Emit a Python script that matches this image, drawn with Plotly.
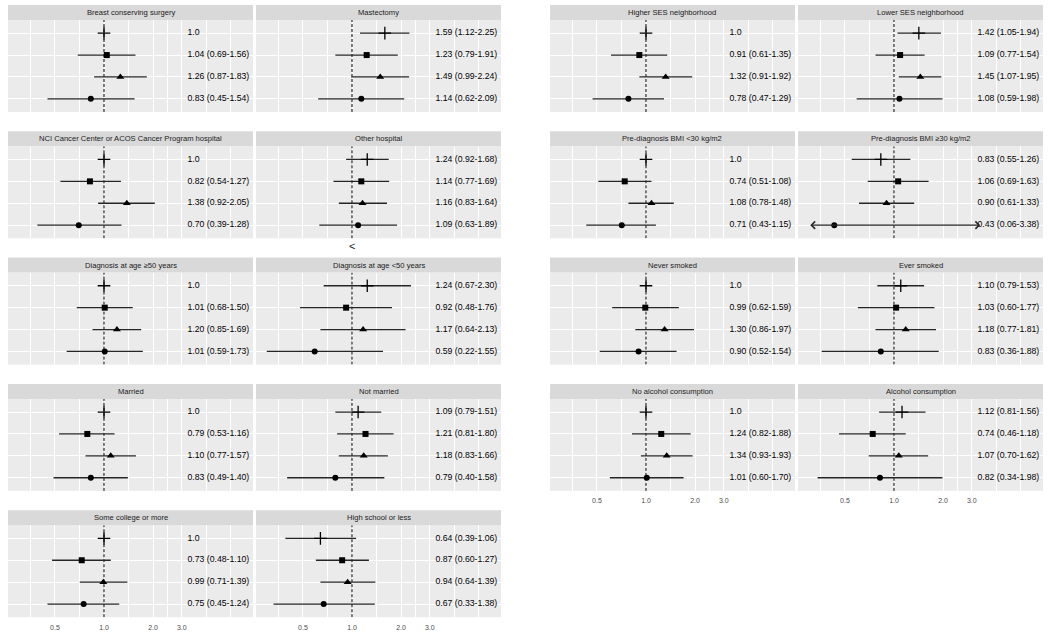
import math
import plotly.graph_objects as go

W, H = 1050, 634
FONT = "Liberation Sans, Arial, sans-serif"

# ---- data ----
left_titles = [
    "Breast conserving surgery", "Mastectomy",
    "NCI Cancer Center or ACOS Cancer Program hospital", "Other hospital",
    "Diagnosis at age \u226550 years", "Diagnosis at age &lt;50 years",
    "Married", "Not married",
    "Some college or more", "High school or less",
]
left_hr = [
    [1.0, 1.04, 1.26, 0.83], [1.59, 1.23, 1.49, 1.14],
    [1.0, 0.82, 1.38, 0.70], [1.24, 1.14, 1.16, 1.09],
    [1.0, 1.01, 1.20, 1.01], [1.24, 0.92, 1.17, 0.59],
    [1.0, 0.79, 1.10, 0.83], [1.09, 1.21, 1.18, 0.79],
    [1.0, 0.73, 0.99, 0.75], [0.64, 0.87, 0.94, 0.67],
]
left_lo = [
    [None, 0.69, 0.87, 0.45], [1.12, 0.79, 0.99, 0.62],
    [None, 0.54, 0.92, 0.39], [0.92, 0.77, 0.83, 0.63],
    [None, 0.68, 0.85, 0.59], [0.67, 0.48, 0.64, 0.22],
    [None, 0.53, 0.77, 0.49], [0.79, 0.81, 0.83, 0.40],
    [None, 0.48, 0.71, 0.45], [0.39, 0.60, 0.64, 0.33],
]
left_hi = [
    [None, 1.56, 1.83, 1.54], [2.25, 1.91, 2.24, 2.09],
    [None, 1.27, 2.05, 1.28], [1.68, 1.69, 1.64, 1.89],
    [None, 1.50, 1.69, 1.73], [2.30, 1.76, 2.13, 1.55],
    [None, 1.16, 1.57, 1.40], [1.51, 1.80, 1.66, 1.58],
    [None, 1.10, 1.39, 1.24], [1.06, 1.27, 1.39, 1.38],
]

right_titles = [
    "Higher SES neighborhood", "Lower SES neighborhood",
    "Pre-diagnosis BMI &lt;30 kg/m2", "Pre-diagnosis BMI \u226530 kg/m2",
    "Never smoked", "Ever smoked",
    "No alcohol consumption", "Alcohol consumption",
]
right_hr = [
    [1.0, 0.91, 1.32, 0.78], [1.42, 1.09, 1.45, 1.08],
    [1.0, 0.74, 1.08, 0.71], [0.83, 1.06, 0.90, 0.43],
    [1.0, 0.99, 1.30, 0.90], [1.10, 1.03, 1.18, 0.83],
    [1.0, 1.24, 1.34, 1.01], [1.12, 0.74, 1.07, 0.82],
]
right_lo = [
    [None, 0.61, 0.91, 0.47], [1.05, 0.77, 1.07, 0.59],
    [None, 0.51, 0.78, 0.43], [0.55, 0.69, 0.61, 0.06],
    [None, 0.62, 0.86, 0.52], [0.79, 0.60, 0.77, 0.36],
    [None, 0.82, 0.93, 0.60], [0.81, 0.46, 0.70, 0.34],
]
right_hi = [
    [None, 1.35, 1.92, 1.29], [1.94, 1.54, 1.95, 1.98],
    [None, 1.08, 1.48, 1.15], [1.26, 1.63, 1.33, 3.38],
    [None, 1.59, 1.97, 1.54], [1.53, 1.77, 1.81, 1.88],
    [None, 1.88, 1.93, 1.70], [1.56, 1.18, 1.62, 1.98],
]

tick_vals = [0.5, 1.0, 2.0, 3.0]
tick_text = ["0.5", "1.0", "2.0", "3.0"]
minor_vals = [0.3536, 0.7071, 1.4142, 2.4495, 4.2426, 6.0]

# ---- layout constants ----
LEFT_COL = [(8, 253), (256, 501)]
RIGHT_COL = [(550, 795), (798, 1043)]
ROW_TOP0, ROW_PITCH, STRIP_H, PANEL_H = 5, 126.3, 15, 92
XRANGE = [-0.589, 0.914]          # log10 units
LABEL_X = 3.25
CLIP_LO, ARROW_HI = 0.3, 3.0

symbols = ["cross-thin", "square", "triangle-up", "circle"]
sizes = [9, 6, 7, 6]
ys = [4, 3, 2, 1]
INK = "#262626"

fig = go.Figure()
layout = {}
annotations = []
shapes = []


def fmt(h, lo, hi):
    if lo is None:
        return "1.0"
    return f"{h:.2f} ({lo:.2f}-{hi:.2f})"


n = 0
for titles, hrs, los, his, cols, nrows in [
    (left_titles, left_hr, left_lo, left_hi, LEFT_COL, 5),
    (right_titles, right_hr, right_lo, right_hi, RIGHT_COL, 4),
]:
    for idx in range(len(titles)):
        n += 1
        row, c = divmod(idx, 2)
        x0, x1 = cols[c]
        top = ROW_TOP0 + ROW_PITCH * row
        ptop, pbot = top + STRIP_H, top + STRIP_H + PANEL_H
        xa = "x" if n == 1 else f"x{n}"
        ya = "y" if n == 1 else f"y{n}"
        bottom = row == nrows - 1

        layout["xaxis" if n == 1 else f"xaxis{n}"] = dict(
            type="log", range=XRANGE, domain=[x0 / W, x1 / W],
            anchor=ya, tickmode="array", tickvals=tick_vals, ticktext=tick_text,
            showticklabels=bottom, ticks="outside" if bottom else "",
            ticklen=3, tickcolor="rgba(0,0,0,0)",
            tickfont=dict(size=7, color="#4D4D4D", family=FONT),
            showgrid=True, gridcolor="white", gridwidth=1,
            minor=dict(tickmode="array", tickvals=minor_vals, showgrid=True,
                       gridcolor="white", gridwidth=0.6, ticks=""),
            zeroline=False, showline=False, fixedrange=True,
        )
        layout["yaxis" if n == 1 else f"yaxis{n}"] = dict(
            range=[0.4, 4.6], domain=[1 - pbot / H, 1 - ptop / H], anchor=xa,
            tickmode="array", tickvals=[1, 2, 3, 4], showticklabels=False,
            showgrid=True, gridcolor="white", gridwidth=1,
            zeroline=False, showline=False, ticks="", fixedrange=True,
        )

        # strip
        shapes.append(dict(type="rect", xref="paper", yref="paper",
                           x0=x0 / W, x1=x1 / W, y0=1 - ptop / H, y1=1 - top / H,
                           fillcolor="#D9D9D9", line=dict(width=0), layer="below"))
        annotations.append(dict(text=titles[idx], xref="paper", yref="paper",
                                x=(x0 + x1) / 2 / W, y=1 - (top + STRIP_H / 2) / H,
                                showarrow=False, xanchor="center", yanchor="middle",
                                font=dict(size=7.6, color="#1A1A1A", family=FONT)))

        # reference line at 1
        fig.add_trace(go.Scatter(x=[1, 1], y=[0.4, 4.6], mode="lines", xaxis=xa, yaxis=ya,
                                 line=dict(color="black", width=1, dash="3px,2px"),
                                 hoverinfo="skip", showlegend=False))

        hr, lo, hi = hrs[idx], los[idx], his[idx]
        # CI segments (clipped at the left; double arrow when the upper bound runs off)
        sx, sy = [], []
        for k in range(4):
            if lo[k] is None:
                continue
            a = max(lo[k], CLIP_LO)
            if hi[k] > ARROW_HI:
                # log axis: annotation positions are given in log10 units
                annotations.append(dict(
                    x=math.log10(hi[k]), y=ys[k], ax=math.log10(a), ay=ys[k],
                    xref=xa, yref=ya, axref=xa, ayref=ya, text="",
                    showarrow=True, arrowside="end+start",
                    arrowhead=4, startarrowhead=4, arrowsize=1.1, startarrowsize=1.1,
                    arrowwidth=1.3, arrowcolor=INK, standoff=0, startstandoff=0))
                continue
            sx += [a, hi[k], None]
            sy += [ys[k], ys[k], None]
        fig.add_trace(go.Scatter(x=sx, y=sy, mode="lines", xaxis=xa, yaxis=ya,
                                 line=dict(color=INK, width=1.3),
                                 hoverinfo="skip", showlegend=False))

        # point estimates
        for k in range(4):
            fig.add_trace(go.Scatter(
                x=[hr[k]], y=[ys[k]], mode="markers", xaxis=xa, yaxis=ya,
                marker=dict(symbol=symbols[k], size=sizes[k], color="black",
                            line=dict(color="black", width=1.3 if k == 0 else 0)),
                hoverinfo="skip", showlegend=False, cliponaxis=False))

        # labels
        fig.add_trace(go.Scatter(
            x=[LABEL_X] * 4, y=ys, mode="text",
            text=[fmt(hr[k], lo[k], hi[k]) for k in range(4)],
            textposition="middle right", cliponaxis=False,
            textfont=dict(size=8.7, color="black", family=FONT),
            xaxis=xa, yaxis=ya, hoverinfo="skip", showlegend=False))

# stray arrowhead below the "Other hospital" panel
annotations.append(dict(text="&lt;", xref="x4", yref="paper", x=0, y=1 - 246 / H,
                        showarrow=False, xanchor="center", yanchor="middle",
                        font=dict(size=11, color=INK, family=FONT)))

fig.update_layout(
    width=W, height=H, margin=dict(l=0, r=0, t=0, b=0),
    paper_bgcolor="white", plot_bgcolor="#EBEBEB",
    showlegend=False, annotations=annotations, shapes=shapes,
    font=dict(family=FONT),
    **layout,
)

# the page body has a default 8px margin; drop it so the figure sits at the corner
fig.write_html("out.html", config={"displayModeBar": False},
               post_script="document.body.style.margin='0px';document.body.style.overflow='hidden';")
